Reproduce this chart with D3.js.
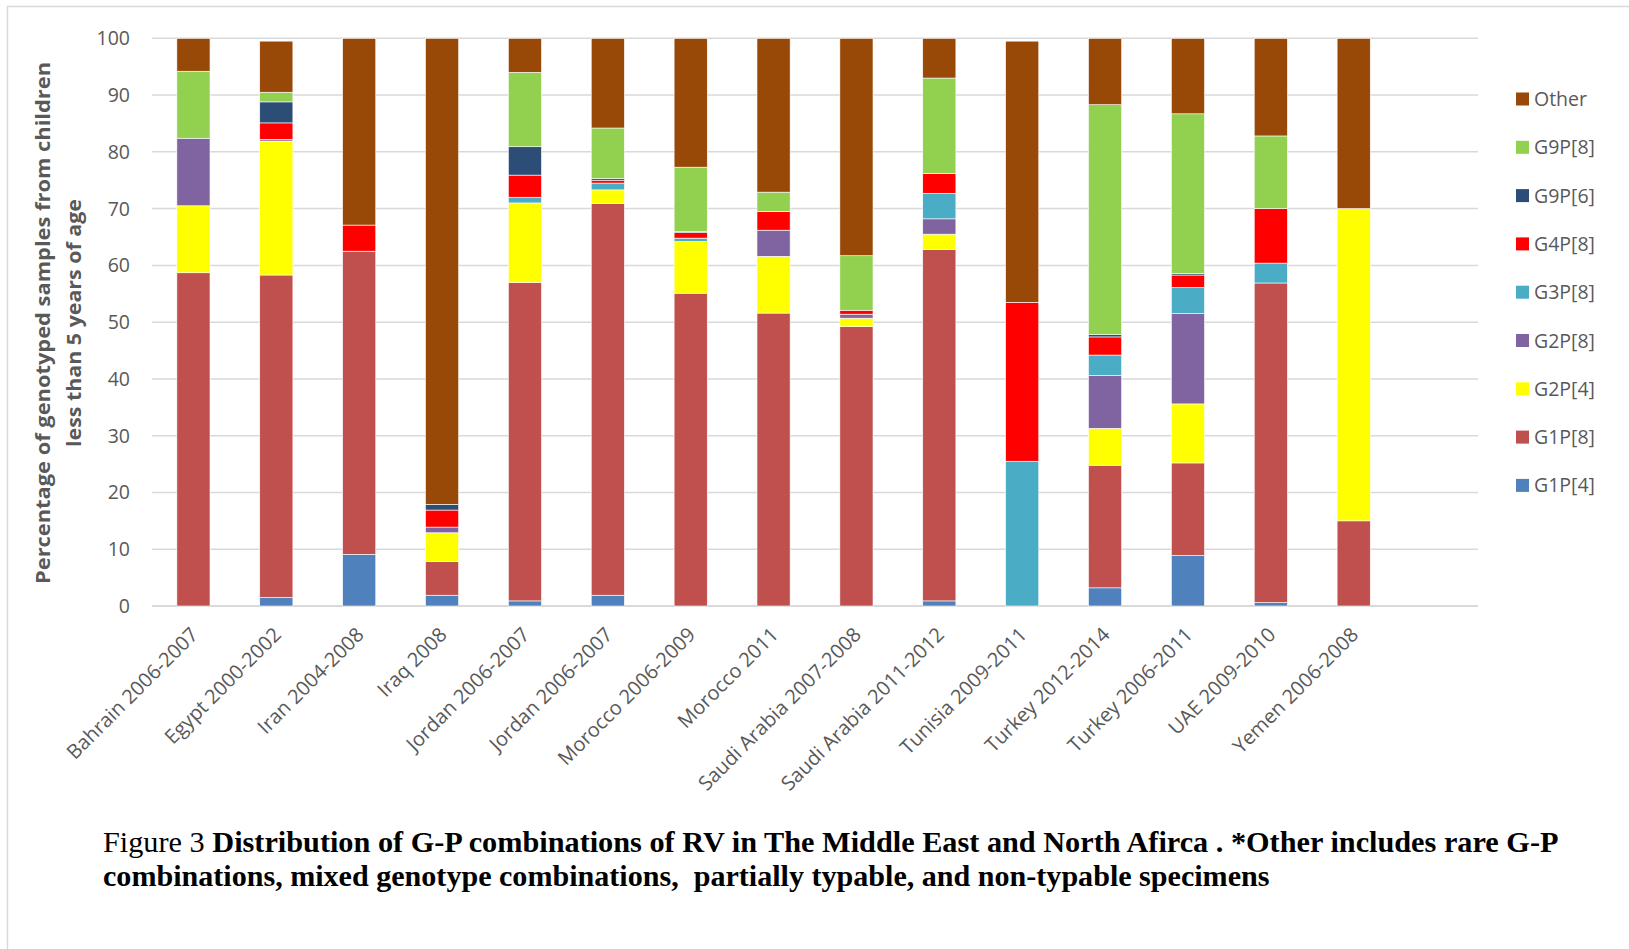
<!DOCTYPE html>
<html>
<head>
<meta charset="utf-8">
<script src="https://cdn.jsdelivr.net/npm/d3@7"></script>
<style>
  html, body { margin: 0; padding: 0; background: #fff; }
  svg { display: block; }
  text { white-space: pre; }
</style>
</head>
<body>
<svg width="1629" height="949"></svg>
<script>
const categories = ["Bahrain 2006-2007", "Egypt 2000-2002", "Iran 2004-2008", "Iraq 2008",
  "Jordan 2006-2007", "Jordan 2006-2007 ", "Morocco 2006-2009", "Morocco 2011",
  "Saudi Arabia 2007-2008", "Saudi Arabia 2011-2012", "Tunisia 2009-2011",
  "Turkey 2012-2014", "Turkey 2006-2011", "UAE 2009-2010", "Yemen 2006-2008"];

const seriesNames = ["G1P[4]", "G1P[8]", "G2P[4]", "G2P[8]", "G3P[8]", "G4P[8]", "G9P[6]", "G9P[8]", "Other"];

const g1p4  = [0, 1.5, 9.1, 1.9, 0.9, 1.9, 0, 0, 0, 0.9, 0, 3.2, 8.9, 0.6, 0];
const g1p8  = [58.7, 56.8, 53.4, 5.9, 56.1, 69.0, 55.1, 51.6, 49.2, 61.9, 0, 21.6, 16.3, 56.3, 15.0];
const g2p4  = [11.8, 23.6, 0, 5.1, 14.0, 2.4, 9.1, 10.0, 1.5, 2.7, 0, 6.5, 10.4, 0, 55.0];
const g2p8  = [11.9, 0.3, 0, 1.0, 0, 0, 0, 4.6, 0.7, 2.7, 0, 9.3, 15.9, 0, 0];
const g3p8  = [0, 0, 0, 0, 1.0, 1.2, 0.6, 0, 0, 4.5, 25.5, 3.6, 4.6, 3.5, 0];
const g4p8  = [0, 2.9, 4.6, 3.0, 3.9, 0.5, 1.0, 3.3, 0.7, 3.5, 28.0, 3.2, 2.2, 9.6, 0];
const g9p6  = [0, 3.7, 0, 1.0, 5.0, 0.3, 0.2, 0, 0, 0, 0, 0.4, 0.3, 0, 0];
const g9p8  = [11.8, 1.7, 0, 0, 13.1, 8.9, 11.3, 3.4, 9.6, 16.8, 0, 40.5, 28.1, 12.8, 0];
const other = [5.8, 9.0, 32.9, 82.1, 6.0, 15.8, 22.7, 27.1, 38.3, 7.0, 46.0, 11.7, 13.3, 17.2, 30.0];

const yTicks = [0, 10, 20, 30, 40, 50, 60, 70, 80, 90, 100];

const colors = ["#4F81BD", "#C0504D", "#FFFF00", "#8064A2", "#4BACC6", "#FF0000", "#2C4D75", "#92D050", "#984807"];

const seriesValues = [g1p4, g1p8, g2p4, g2p8, g3p8, g4p8, g9p6, g9p8, other];

// rows for d3.stack
const rows = categories.map((c, i) => {
  const r = {cat: c};
  seriesNames.forEach((s, j) => r[s] = seriesValues[j][i]);
  return r;
});

const svg = d3.select('svg');
const gray = "#595959";

// chart frame
svg.append('rect')
  .attr('x', 7.5).attr('y', 6.5)
  .attr('width', 1640).attr('height', 960)
  .attr('fill', 'none').attr('stroke', '#d9d9d9').attr('stroke-width', 1.5);

const plotLeft = 152, plotRight = 1478, plotTop = 38.3, plotBottom = 606;

// Excel leaves one empty slot after the last category
const x = d3.scaleBand()
  .domain(categories.concat(["__empty"]))
  .range([plotLeft, plotRight])
  .paddingInner(0.6).paddingOuter(0.3);

const y = d3.scaleLinear().domain([0, 100]).range([plotBottom, plotTop]);

// gridlines
svg.append('g')
  .selectAll('line')
  .data(yTicks)
  .join('line')
  .attr('x1', plotLeft).attr('x2', plotRight)
  .attr('y1', d => y(d)).attr('y2', d => y(d))
  .attr('stroke', '#d9d9d9')
  .attr('stroke-width', d => d === 0 ? 2 : 1.5);

// y tick labels
svg.append('g')
  .selectAll('text')
  .data(yTicks)
  .join('text')
  .attr('x', 130).attr('y', d => y(d))
  .attr('dy', '0.36em')
  .attr('text-anchor', 'end')
  .attr('fill', gray)
  .style('font-family', '"Open Sans", sans-serif')
  .style('font-size', '19.5px')
  .text(d => d);

const stack = d3.stack().keys(seriesNames);
const layers = stack(rows);

svg.append('g')
  .selectAll('g')
  .data(layers)
  .join('g')
  .attr('fill', (d, i) => colors[i])
  .selectAll('rect')
  .data(d => d.filter(p => p[1] - p[0] > 0))
  .join('rect')
  .attr('x', d => x(d.data.cat))
  .attr('width', x.bandwidth())
  .attr('y', d => y(d[1]))
  .attr('height', d => y(d[0]) - y(d[1]))
  .attr('stroke', '#fff')
  .attr('stroke-width', 0.6);

// category labels
svg.append('g')
  .selectAll('text')
  .data(categories)
  .join('text')
  .attr('transform', d => `translate(${x(d) + x.bandwidth() / 2 + 6}, ${plotBottom + 30}) rotate(-45)`)
  .attr('text-anchor', 'end')
  .attr('fill', gray)
  .style('font-family', '"Open Sans", sans-serif')
  .style('font-size', '20px')
  .text(d => d.trim());

// y axis title
const yTitle = svg.append('g').attr('transform', `translate(0, 323) rotate(-90)`);
yTitle.append('text')
  .attr('x', 0).attr('y', 50)
  .attr('text-anchor', 'middle')
  .attr('fill', gray)
  .style('font-family', '"Open Sans", sans-serif')
  .style('font-size', '20px')
  .style('font-weight', 'bold')
  .attr('textLength', 522).attr('lengthAdjust', 'spacingAndGlyphs')
  .text("Percentage of genotyped samples from children");
yTitle.append('text')
  .attr('x', 0).attr('y', 81)
  .attr('text-anchor', 'middle')
  .attr('fill', gray)
  .style('font-family', '"Open Sans", sans-serif')
  .style('font-size', '20px')
  .style('font-weight', 'bold')
  .attr('textLength', 248).attr('lengthAdjust', 'spacingAndGlyphs')
  .text("less than 5 years of age");

// legend
const legendNames = seriesNames.slice().reverse();
const legendColors = colors.slice().reverse();
const legend = svg.append('g')
  .selectAll('g')
  .data(legendNames)
  .join('g')
  .attr('transform', (d, i) => `translate(1516, ${99 + i * 48.3})`);
legend.append('rect')
  .attr('x', 0).attr('y', -6.5)
  .attr('width', 13).attr('height', 13)
  .attr('fill', (d, i) => legendColors[i]);
legend.append('text')
  .attr('x', 18).attr('y', 0).attr('dy', '0.36em')
  .attr('fill', gray)
  .style('font-family', '"Open Sans", sans-serif')
  .style('font-size', '19.5px')
  .text(d => d);

// caption (the source figure's serif text is condensed, so squeeze it to width)
const captionLines = [
  [["Figure 3 ", "normal"], ["Distribution of G-P combinations of RV in The Middle East and North Afirca . *Other includes rare G-P", "bold"]],
  [["combinations, mixed genotype combinations,  partially typable, and non-typable specimens", "bold"]]
];
const captionWidths = [1456, 1167];
captionLines.forEach((parts, i) => {
  const t = svg.append('text')
    .attr('x', 0).attr('y', 0)
    .attr('fill', '#000')
    .style('font-family', '"Liberation Serif", "Times New Roman", serif')
    .style('font-size', '30px');
  parts.forEach(p => t.append('tspan').style('font-weight', p[1]).text(p[0]));
  const w = t.node().getComputedTextLength();
  t.attr('transform', `translate(103, ${852 + i * 34}) scale(${captionWidths[i] / w}, 1)`);
});
</script>
</body>
</html>
